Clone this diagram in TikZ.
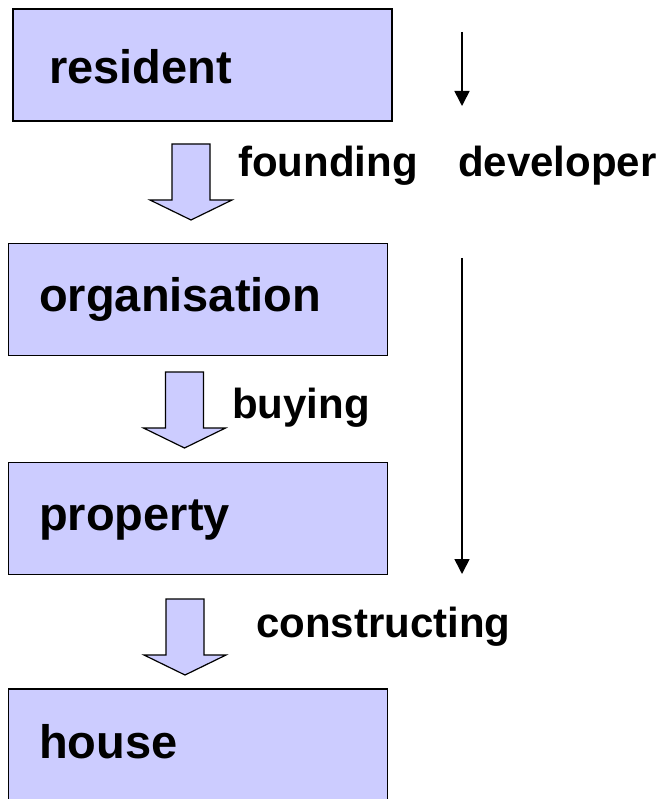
\documentclass[tikz,border=0pt]{standalone}
\usepackage{fontspec}
\setmainfont{Liberation Sans}
\usepackage{tikz}
\usetikzlibrary{arrows.meta,positioning}
\definecolor{stagefill}{HTML}{CCCCFF}

\tikzset{
	stage/.style={draw=black, line width=1.6pt, fill=stagefill,
		minimum width=379pt, minimum height=112pt, inner sep=0pt},
	stagetext/.style={anchor=base west, inner sep=0pt,
		font=\fontsize{47}{52}\selectfont\bfseries},
	actlabel/.style={anchor=base west, inner sep=0pt,
		font=\fontsize{42}{46}\selectfont\bfseries},
	flowarrow/.pic={
		\path[draw=black, line width=1.2pt, fill=stagefill, line join=miter]
			(-19,0) -- (19,0) -- (19,56) -- (41,56) -- (0,76)
			-- (-41,56) -- (-19,56) -- cycle;
	},
	devarrow/.style={line width=1.6pt, -{Triangle[length=15pt,width=15pt]}}
}

\begin{document}
\begin{tikzpicture}[x=1pt, y=-1pt]
	\useasboundingbox (0,0) rectangle (662,799);
	% stages
	\node[stage]	(resident) at (202.5, 65)  {};
	\node[stage]	(organisation) at (198, 299.5)  {};
	\node[stage]	(property) at (198, 518.5)  {};
	\node[stage]	(house) at (198, 745)  {};
	\node[stagetext]	(resident-t) at (49, 84)  {resident};
	\node[stagetext]	(organisation-t) at (39, 311)  {organisation};
	\node[stagetext]	(property-t) at (39, 530)  {property};
	\node[stagetext]	(house-t) at (39, 758)  {house};
	% actions between the stages
	\pic at (191, 144) {flowarrow};
	\pic at (184.5, 372) {flowarrow};
	\pic at (185, 599) {flowarrow};
	\node[actlabel]	(founding) at (238, 177)  {founding};
	\node[actlabel]	(buying) at (232, 418)  {buying};
	\node[actlabel]	(constructing) at (256, 637)  {constructing};
	% developer
	\node[actlabel]	(developer) at (458, 177)  {developer};
	\coordinate (dev-a) at (462, 32);
	\coordinate (dev-b) at (462, 106);
	\coordinate (dev-c) at (462, 258);
	\coordinate (dev-d) at (462, 574);
	\draw[devarrow] (dev-a) -- (dev-b);
	\draw[devarrow] (dev-c) -- (dev-d);
\end{tikzpicture}
\end{document}
